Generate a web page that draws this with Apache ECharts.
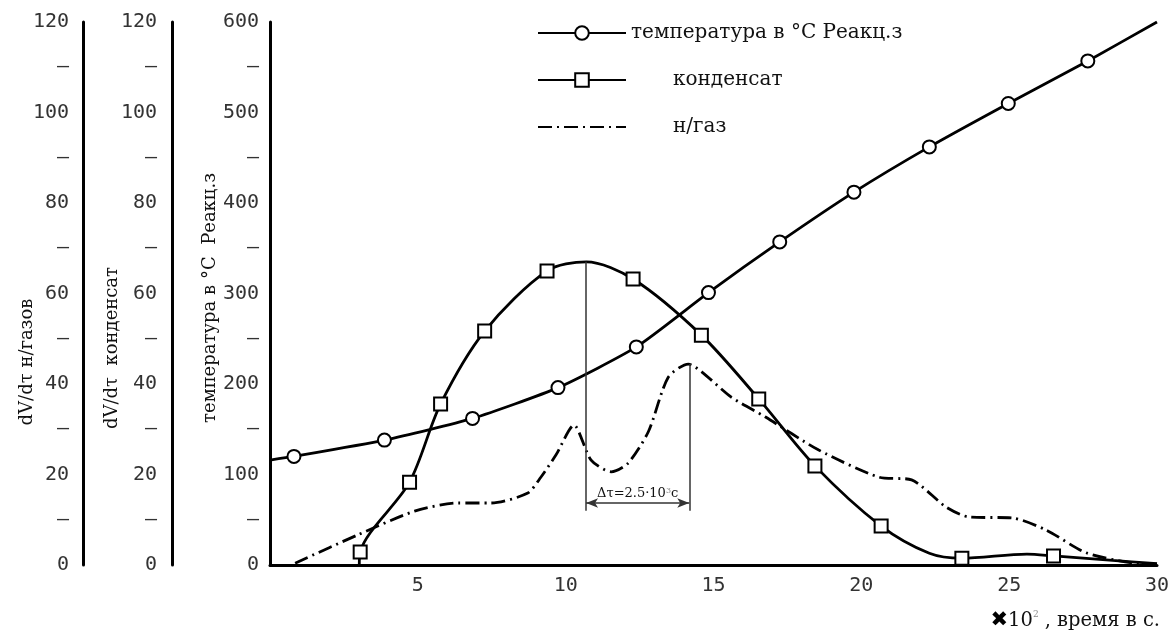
<!DOCTYPE html>
<html>
<head>
<meta charset="utf-8">
<script src="https://cdn.jsdelivr.net/npm/echarts@6/dist/echarts.min.js"></script>
<style>html,body{margin:0;padding:0;background:#fff}#c{width:1176px;height:635px}</style>
</head>
<body>
<div id="c"></div>
<script>
// ---- data ----
const tempName = 'температура в °С Реакц.з';
const condName = 'конденсат';
const gasName = 'н/газ';

const tempX = [0, 0.81, 3.87, 6.85, 9.74, 12.39, 14.83, 17.24, 19.75, 22.3, 24.97, 27.66, 30];
const tempY = [116, 120, 138, 162, 196, 241, 301, 357, 412, 462, 510, 557, 600];
const tempMarked = [0, 1, 1, 1, 1, 1, 1, 1, 1, 1, 1, 1, 0];

const condX = [3.02, 3.05, 4.72, 5.77, 7.26, 9.37, 10.7, 12.28, 14.59, 16.53, 18.43, 20.67, 22.3, 23.4, 25.6, 26.5, 28.5, 30];
const condY = [0, 2.9, 18.3, 35.6, 51.7, 65.0, 67.0, 63.2, 50.8, 36.7, 21.9, 8.6, 2.6, 1.5, 2.4, 2.0, 1.0, 0.3];
const condMarked = [0, 1, 1, 1, 1, 1, 0, 1, 1, 1, 1, 1, 0, 1, 0, 1, 0, 0];

const gasX = [0.85, 2.95, 4.89, 6.35, 7.47, 8.72, 9.16, 9.67, 10.28, 10.86, 11.54, 12.11, 12.8, 13.47, 14.15, 14.6, 15.6, 16.76, 18.56, 20.6, 21.7, 22.87, 23.65, 25.1, 26.26, 27.6, 29.2, 30];
const gasY = [0.4, 6.6, 11.9, 13.7, 13.7, 15.9, 19.4, 24.3, 30.9, 23.2, 20.6, 22.5, 29.5, 41.5, 44.4, 42.7, 37.1, 32.7, 25.4, 19.4, 18.8, 12.8, 10.6, 10.4, 7.7, 2.7, 0.4, 0.2];

// annotation: Δτ between condensate peak and gas peak
const dtStart = 10.69, dtEnd = 14.18;
const dtTopStart = 67, dtTopEnd = 44.4, dtBottom = 12, dtArrowY = 13.7;

const axisTitleGas = 'dV/dτ н/газов';
const axisTitleCond = 'dV/dτ  конденсат';
const axisTitleTemp = 'температура в °С  Реакц.з';

// ---- build ----
function build(xs, ys, marked) {
  return xs.map((x, i) => marked[i] ? [x, ys[i]] : { value: [x, ys[i]], symbol: 'none' });
}
const numFont = 'DejaVu Sans Mono';
const txtFont = 'DejaVu Serif';

function leftAxis(max, interval, major, offset, margin) {
  return {
    type: 'value', position: 'left', min: 0, max: max, interval: interval, offset: offset,
    axisLine: { show: true, onZero: false, lineStyle: { color: '#000', width: 3 } },
    axisTick: { show: false }, splitLine: { show: false },
    axisLabel: {
      margin: margin, color: '#333', fontFamily: numFont, fontSize: 20,
      formatter: v => (v % major === 0 ? String(v) : '—')
    }
  };
}

const chart = echarts.init(document.getElementById('c'));
chart.setOption({
  animation: false,
  backgroundColor: '#fff',
  grid: { left: 270, right: 19, top: 22, bottom: 70 },
  legend: {
    orient: 'vertical', left: 532, top: 18, itemWidth: 88, itemHeight: 17, itemGap: 27,
    textStyle: { fontFamily: txtFont, fontSize: 20, color: '#111',
      rich: { p: { fontFamily: txtFont, fontSize: 20, color: '#111', padding: [0, 0, 0, 42] } } },
    formatter: n => (n === tempName ? n : '{p|' + n + '}'),
    data: [tempName, condName, { name: gasName, itemStyle: { opacity: 0 } }]
  },
  xAxis: {
    type: 'value', min: 0, max: 30, interval: 5,
    axisLine: { show: true, onZero: false, lineStyle: { color: '#000', width: 3 } },
    axisTick: { show: false }, splitLine: { show: false },
    axisLabel: { margin: 11, color: '#333', fontFamily: numFont, fontSize: 20,
      formatter: v => (v === 0 ? '' : String(v)) }
  },
  yAxis: [
    leftAxis(120, 10, 20, 187, 14),
    leftAxis(120, 10, 20, 98, 15),
    leftAxis(600, 50, 100, 0, 11)
  ],
  series: [
    {
      name: tempName, type: 'line', yAxisIndex: 2, smooth: 0.2,
      data: build(tempX, tempY, tempMarked),
      symbol: 'emptyCircle', symbolSize: 13,
      lineStyle: { color: '#000', width: 2.8 },
      itemStyle: { color: '#000', borderColor: '#000', borderWidth: 3 }
    },
    {
      name: condName, type: 'line', yAxisIndex: 1, smooth: 0.3,
      data: build(condX, condY, condMarked),
      symbol: 'emptyRect', symbolSize: 13,
      lineStyle: { color: '#000', width: 2.8 },
      itemStyle: { color: '#000', borderColor: '#000', borderWidth: 3 },
      markLine: {
        silent: true, symbol: 'none',
        lineStyle: { color: '#333', width: 1.5, type: 'solid' },
        label: { show: false },
        data: [
          [{ coord: [dtStart, dtTopStart] }, { coord: [dtStart, dtBottom] }],
          [{ coord: [dtEnd, dtTopEnd] }, { coord: [dtEnd, dtBottom] }],
          [{ coord: [dtStart, dtArrowY], symbol: 'arrow', symbolSize: [7, 12],
             label: { show: true, position: 'middle', distance: 2,
               formatter: '{a|Δτ=2.5·10}{s|3}{a|c}',
               rich: { a: { fontFamily: txtFont, fontSize: 13, color: '#111' },
                       s: { fontFamily: txtFont, fontSize: 8, color: '#888', verticalAlign: 'top', padding: [0, 0, 6, 0] } } } },
           { coord: [dtEnd, dtArrowY], symbol: 'arrow', symbolSize: [7, 12] }]
        ]
      }
    },
    {
      name: gasName, type: 'line', yAxisIndex: 0, smooth: 0.25,
      data: gasX.map((x, i) => [x, gasY[i]]),
      symbol: 'none',
      lineStyle: { color: '#000', width: 2.8, type: [14, 5, 2, 5] },
      itemStyle: { color: '#000' }
    }
  ],
  graphic: [
    { type: 'text', x: 27, y: 362, rotation: Math.PI / 2,
      style: { text: axisTitleGas, fontFamily: txtFont, fontSize: 18, fill: '#111', align: 'center', verticalAlign: 'middle' } },
    { type: 'text', x: 112, y: 348, rotation: Math.PI / 2,
      style: { text: axisTitleCond, fontFamily: txtFont, fontSize: 18, fill: '#111', align: 'center', verticalAlign: 'middle' } },
    { type: 'text', x: 210, y: 298, rotation: Math.PI / 2,
      style: { text: axisTitleTemp, fontFamily: txtFont, fontSize: 18, fill: '#111', align: 'center', verticalAlign: 'middle' } },
    { type: 'text', x: 1160, y: 621,
      style: { text: '{x|✖}{a|10}{s|2}{a|, время в с.}', align: 'right', verticalAlign: 'middle',
        rich: { x: { fontFamily: 'DejaVu Sans', fontSize: 21, fill: '#000', fontWeight: 'bold' },
                a: { fontFamily: txtFont, fontSize: 19.5, fill: '#111' },
                s: { fontFamily: txtFont, fontSize: 9, fill: '#888', verticalAlign: 'top', padding: [0, 6, 10, 0] } } } }
  ]
});
</script>
</body>
</html>
